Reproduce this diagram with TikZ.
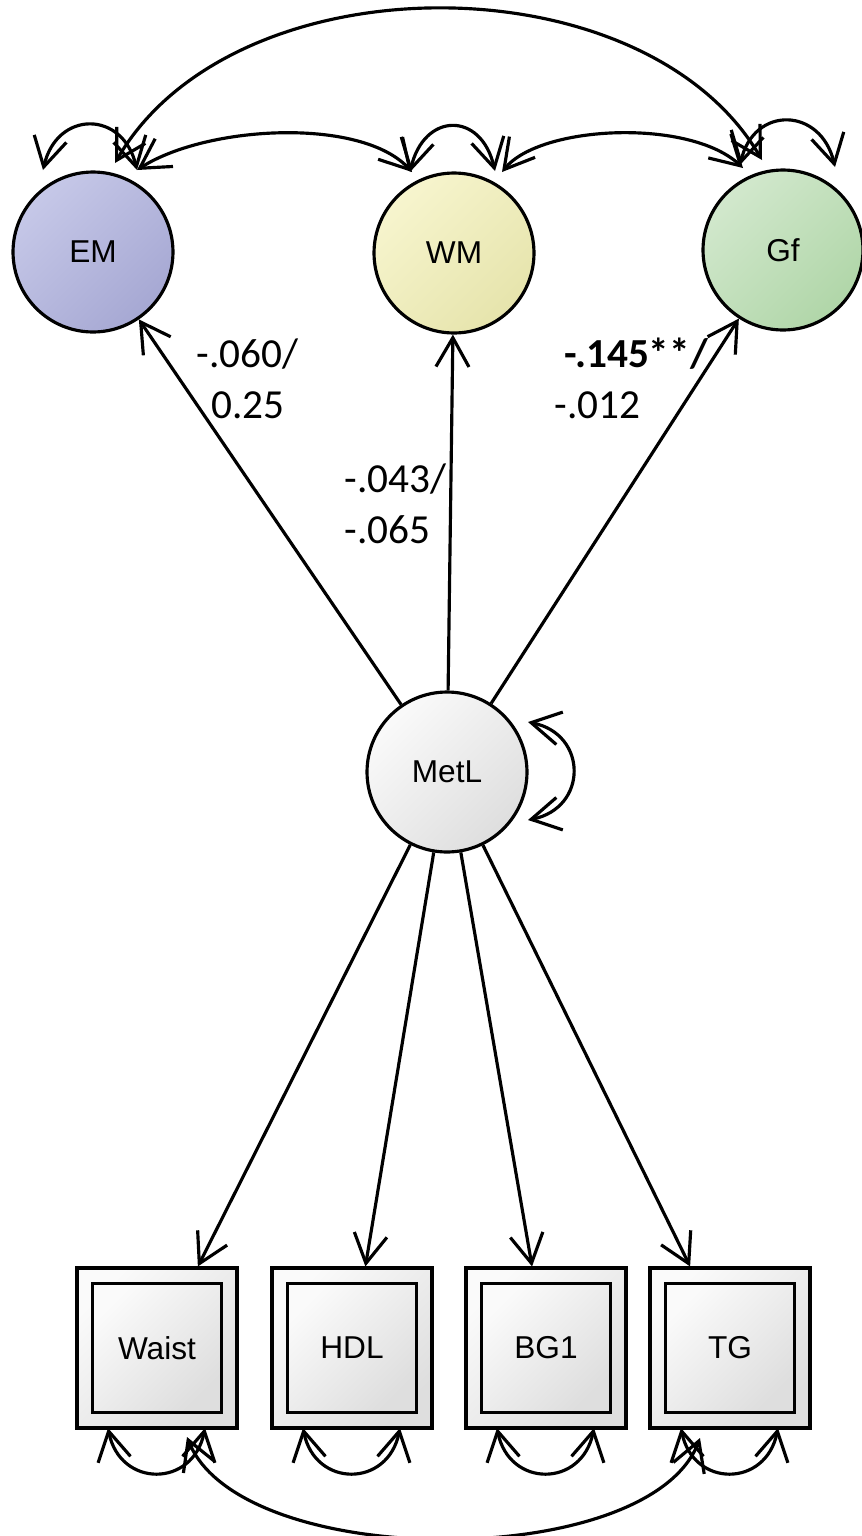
\documentclass[tikz,border=0pt]{standalone}
\usepackage{fontspec}
\setmainfont{Liberation Sans}
\newfontfamily\coeffont{Carlito}
\usetikzlibrary{arrows.meta,calc}

\definecolor{emlight}{RGB}{198,200,232}
\definecolor{emdark}{RGB}{166,168,211}
\definecolor{wmlight}{RGB}{247,245,206}
\definecolor{wmdark}{RGB}{230,228,172}
\definecolor{gflight}{RGB}{210,232,205}
\definecolor{gfdark}{RGB}{176,214,168}
\definecolor{grlight}{RGB}{250,250,250}
\definecolor{grdark}{RGB}{222,222,222}

\begin{document}
\begin{tikzpicture}[x=0.02cm,y=-0.02cm,line width=1.8pt,
    >={Straight Barb[length=0.58cm,width=0.66cm]},
    shadefill/.style 2 args={top color=#1,bottom color=#2,shading angle=45},
    latent/.style={circle,draw,minimum size=3.2cm,inner sep=0pt,font=\fontsize{18}{20}\selectfont},
    obs/.style={rectangle,draw,minimum size=3.2cm,inner sep=0pt,shadefill={grlight}{grdark}},
    obsin/.style={obs,minimum size=2.58cm,font=\fontsize{18}{20}\selectfont},
    coef/.style={align=left,inner sep=0pt,font=\coeffont\fontsize{23.5}{28.5}\selectfont}]

\useasboundingbox (0,0) rectangle (862,1536);

\def\loopH{60}
\def\loopK{14}

% factors
\node [latent,shadefill={emlight}{emdark}] (EM) at (93,252) {EM};
\node [latent,shadefill={wmlight}{wmdark}] (WM) at (454,253) {WM};
\node [latent,shadefill={gflight}{gfdark}] (Gf) at (783,250) {Gf};
\node [latent,shadefill={grlight}{grdark}] (MetL) at (447,772) {MetL};

% indicators
\node [obs] (Waist) at (157,1348) {};
\node [obsin] (Waist-in) at (Waist) {Waist};
\node [obs] (HDL) at (352,1348) {};
\node [obsin] (HDL-in) at (HDL) {HDL};
\node [obs] (BGone) at (546,1348) {};
\node [obsin] (BGone-in) at (BGone) {BG1};
\node [obs] (TG) at (730,1348) {};
\node [obsin] (TG-in) at (TG) {TG};

% regressions
\draw [->] (MetL) -- (EM);
\draw [->] (MetL) -- (WM);
\draw [->] (MetL) -- (Gf);
\draw [->] (MetL) -- (Waist);
\draw [->] (MetL) -- (HDL);
\draw [->] (MetL) -- (BGone);
\draw [->] (MetL) -- (TG);

% coefficients (base = last line)
\node [coef,anchor=base west] (cEM) at (195,418) {-.060/\\\hspace*{0.3cm}0.25};
\node [coef,anchor=base west] (cWM) at (343,543) {-.043/\\-.065};
\node [coef,anchor=base west] (cGf) at (553,418) {\hspace*{0.2cm}\textbf{-.145**/}\\-.012};

% variances on top
\draw [<->] ($(EM)+(-50,-82)$) .. controls +(\loopK,-\loopH) and +(-\loopK,-\loopH) .. ($(EM)+(44,-82)$);
\draw [<->] ($(WM)+(-44,-81)$) .. controls +(\loopK,-\loopH) and +(-\loopK,-\loopH) .. ($(WM)+(41,-82)$);
\draw [<->] ($(Gf)+(-43,-85)$) .. controls +(\loopK,-\loopH) and +(-\loopK,-\loopH) .. ($(Gf)+(52,-83)$);
% variance of MetL
\draw [<->] ($(MetL)+(81,-50)$) .. controls +(\loopH,12) and +(\loopH,-12) .. ($(MetL)+(81,48)$);
% variances below the boxes
\draw [<->] ($(Waist)+(-49,80)$) .. controls +(12,\loopH) and +(-12,\loopH) .. ($(Waist)+(48,80)$);
\draw [<->] ($(HDL)+(-49,80)$) .. controls +(12,\loopH) and +(-12,\loopH) .. ($(HDL)+(48,80)$);
\draw [<->] ($(BGone)+(-49,80)$) .. controls +(12,\loopH) and +(-12,\loopH) .. ($(BGone)+(48,80)$);
\draw [<->] ($(TG)+(-49,80)$) .. controls +(12,\loopH) and +(-12,\loopH) .. ($(TG)+(48,80)$);

% covariances
\draw [<->] ($(EM)+(44,-82)$) .. controls +(70,-45) and +(-50,-55) .. ($(WM)+(-42,-81)$);
\draw [<->] ($(WM)+(48,-81)$) .. controls +(38,-47) and +(-53,-50) .. ($(Gf)+(-40,-82)$);
\draw [<->] ($(EM)+(22,-89)$) .. controls +(118,-205) and +(-118,-202) .. ($(Gf)+(-21,-90)$);
\draw [<->] ($(Waist)+(30,89)$) .. controls +(53,135) and +(-50,134) .. ($(TG)+(-30,90)$);

\end{tikzpicture}
\end{document}
